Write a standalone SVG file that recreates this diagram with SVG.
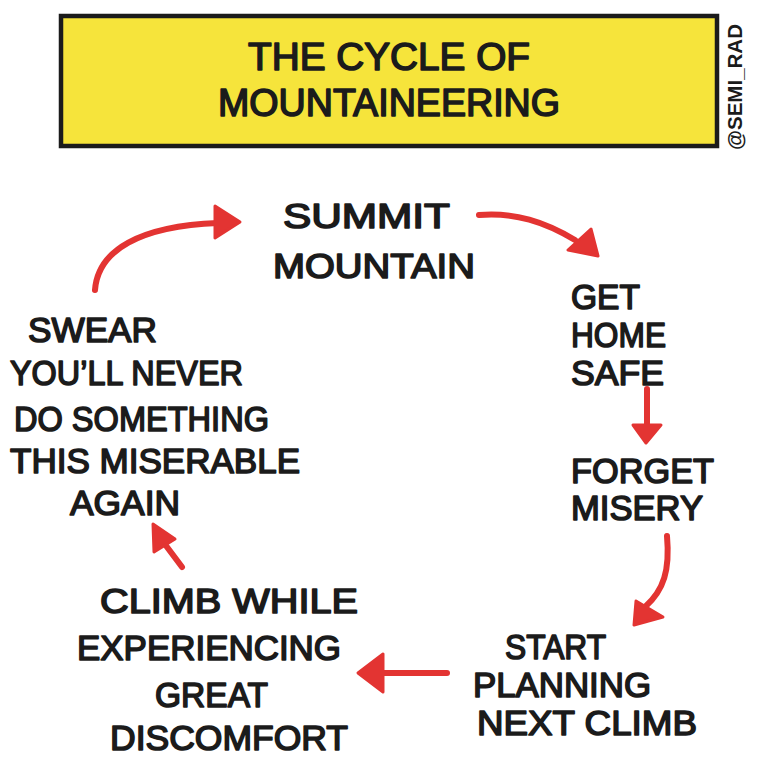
<svg xmlns="http://www.w3.org/2000/svg" width="777" height="777" viewBox="0 0 777 777">
<style>
.t{font-family:"Liberation Sans","DejaVu Sans",sans-serif;font-size:35px;fill:#1b1b1b;stroke:#1b1b1b;stroke-width:1.6px;stroke-linejoin:round}
.ttl{font-size:38px}
.sig{font-family:"Liberation Sans","DejaVu Sans",sans-serif;font-size:20px;font-weight:bold;fill:#1b1b1b}
.ln{fill:none;stroke:#e33432;stroke-width:6;stroke-linecap:round;stroke-linejoin:round}
.hd{fill:#e33432;stroke:#e33432;stroke-width:3;stroke-linejoin:round}
</style>
<rect width="777" height="777" fill="#ffffff"/>
<g id="title">
<rect x="61" y="16" width="656" height="130" fill="#f6e43b" stroke="#1b1b1b" stroke-width="4.5"/>
<text class="t ttl" x="248" y="70" textLength="282" lengthAdjust="spacingAndGlyphs">THE CYCLE OF</text>
<text class="t ttl" x="218" y="116" textLength="342" lengthAdjust="spacingAndGlyphs">MOUNTAINEERING</text>
</g>
<g id="signature">
<text class="sig" transform="translate(742,150) rotate(-90)" x="0" y="0" textLength="126" lengthAdjust="spacingAndGlyphs">@SEMI_RAD</text>
</g>
<g id="summit">
<text class="t" x="283" y="228" textLength="167" lengthAdjust="spacingAndGlyphs">SUMMIT</text>
<text class="t" x="273" y="278" textLength="202" lengthAdjust="spacingAndGlyphs">MOUNTAIN</text>
</g>
<g id="home">
<text class="t" x="571" y="309" textLength="69" lengthAdjust="spacingAndGlyphs">GET</text>
<text class="t" x="571" y="347" textLength="95" lengthAdjust="spacingAndGlyphs">HOME</text>
<text class="t" x="571" y="385" textLength="93" lengthAdjust="spacingAndGlyphs">SAFE</text>
</g>
<g id="forget">
<text class="t" x="571" y="483" textLength="143" lengthAdjust="spacingAndGlyphs">FORGET</text>
<text class="t" x="571" y="520" textLength="132" lengthAdjust="spacingAndGlyphs">MISERY</text>
</g>
<g id="planning">
<text class="t" x="505" y="659" textLength="101" lengthAdjust="spacingAndGlyphs">START</text>
<text class="t" x="473" y="697" textLength="178" lengthAdjust="spacingAndGlyphs">PLANNING</text>
<text class="t" x="477" y="735" textLength="220" lengthAdjust="spacingAndGlyphs">NEXT CLIMB</text>
</g>
<g id="climb">
<text class="t" x="100" y="613" textLength="258" lengthAdjust="spacingAndGlyphs">CLIMB WHILE</text>
<text class="t" x="77" y="660" textLength="264" lengthAdjust="spacingAndGlyphs">EXPERIENCING</text>
<text class="t" x="155" y="707" textLength="113" lengthAdjust="spacingAndGlyphs">GREAT</text>
<text class="t" x="110" y="750" textLength="238" lengthAdjust="spacingAndGlyphs">DISCOMFORT</text>
</g>
<g id="swear">
<text class="t" x="28" y="342" textLength="129" lengthAdjust="spacingAndGlyphs">SWEAR</text>
<text class="t" x="10" y="385" textLength="233" lengthAdjust="spacingAndGlyphs">YOU’LL NEVER</text>
<text class="t" x="14" y="431" textLength="255" lengthAdjust="spacingAndGlyphs">DO SOMETHING</text>
<text class="t" x="10" y="473" textLength="290" lengthAdjust="spacingAndGlyphs">THIS MISERABLE</text>
<text class="t" x="70" y="515" textLength="110" lengthAdjust="spacingAndGlyphs">AGAIN</text>
</g>
<g id="connectors">
<path class="ln" d="M95,290 C98,250 140,226 218,223"/>
<polygon class="hd" points="215,206 240,222 215,238"/>
<path class="ln" d="M479,215 C515,212 545,222 575,240"/>
<polygon class="hd" points="591,229 598,256 568,250"/>
<path class="ln" d="M647,389 L647,428"/>
<polygon class="hd" points="633,425 661,425 646,443"/>
<path class="ln" d="M667,536 C670,570 664,590 645,607"/>
<polygon class="hd" points="636,601 663,617 634,625"/>
<path class="ln" d="M447,673 L380,673"/>
<polygon class="hd" points="383,654 383,692 358,673"/>
<path class="ln" d="M182,567 L164,543"/>
<polygon class="hd" points="153,524 154,552 175,539"/>
</g>
</svg>
